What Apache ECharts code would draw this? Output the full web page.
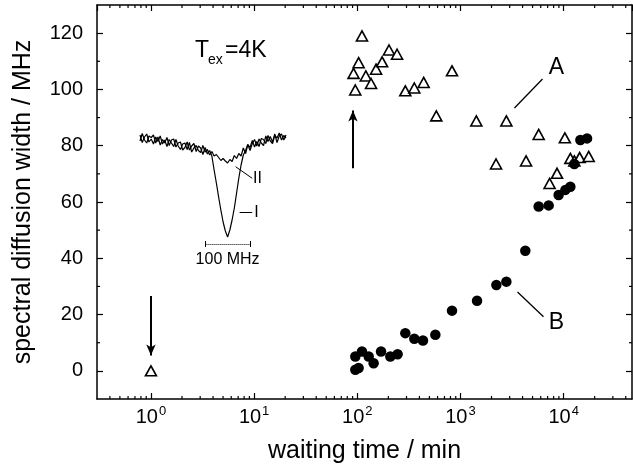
<!DOCTYPE html>
<html><head><meta charset="utf-8">
<script src="https://cdn.jsdelivr.net/npm/echarts@6/dist/echarts.min.js"></script>
<style>html,body{margin:0;padding:0;background:#fff}#c{width:633px;height:466px}</style>
</head><body><div id="c"></div>
<script>
// ---- data ----
// series A: open triangles (waiting time in min, spectral diffusion width in MHz)
const aTime  = [1, 92, 95.6, 103, 111, 121, 136, 152, 174, 203, 243, 292, 357, 440, 583, 828, 1425, 2213, 2786, 4323, 5730, 7310, 8630, 10280, 11620, 12700, 14300, 17500];
const aWidth = [0, 105.7, 99.8, 109.5, 119.0, 104.8, 102.1, 107.2, 109.8, 114.0, 112.5, 99.5, 100.5, 102.5, 90.6, 106.6, 88.8, 73.5, 88.8, 74.6, 84.0, 66.6, 70.2, 82.8, 75.5, 74.6, 75.8, 76.2];
// series B: filled circles
const bTime  = [95.7, 103, 95.7, 111, 129, 144, 170, 209, 246, 292, 357, 433, 571, 828, 1448, 2228, 2786, 4253, 5730, 7160, 8940, 10400, 11620, 12700, 14530, 16870];
const bWidth = [0.4, 1.0, 5.1, 6.9, 5.1, 2.7, 6.9, 5.1, 5.9, 13.4, 11.4, 10.8, 12.8, 21.4, 24.9, 30.5, 31.7, 42.7, 58.4, 58.8, 62.5, 64.3, 65.4, 73.5, 82.0, 82.6];
// axis ticks
const yTickLabels = [0, 20, 40, 60, 80, 100, 120];
const yMinorTicks = [10, 30, 50, 70, 90, 110];
const xMinorTicks = [0.4,0.5,0.6,0.7,0.8,0.9, 2,3,4,5,6,7,8,9, 20,30,40,50,60,70,80,90, 200,300,400,500,600,700,800,900, 2000,3000,4000,5000,6000,7000,8000,9000, 20000,30000,40000];
// inset: hole spectra (frequency offset in MHz, transmission in arb. units)
const insetFreq = [-195,-190,-185,-180,-175,-170,-165,-160,-155,-150,-145,-140,-135,-130,-125,-120,-115,-110,-105,-100,-95,-90,-85,-80,-75,-70,-65,-60,-55,-50,-45,-40,-35,-30,-25,-20,-15,-10,-5,0,5,10,15,20,25,30,35,40,45,50,55,60,65,70,75,80,85,90,95,100,105,110,115,120,125,130];
const traceII = [105,97.5,103,106,98,101,96,103,98.5,104, 96,100,93.5,100.5,97,93.5,100.5,94,90.5,96, 97,90.5,97.5,88,92,94.5,89.5,87.5,94.5,88, 90.5,85,88.5,84,85.5,82.5,79.5,81.5,79,77, 80.5,78.5,84.5,81.5,86.5,84,92,86.5,95.5,92.5, 99.5,93,98.5,93.5,101.5,100.5,96.5,104.5,99,96.5, 104.5,102,107,100,104.5,102];
const traceI  = [99,106.5,100,97,104,102.5,105,97,103,95, 100.5,97,102.5,94.5,100,101,93,97,98,90, 92.5,98,90,94,96.5,88.5,94,92,85.5,92.5, 86,89.5,84,70,57,43,30,18,9,3, 10,20,32,47,62,75,85,89.5,95.5,89.5, 96.5,100.5,94,101,97,94.5,104,98.5,103.5,98, 106,97.5,104,106,100,105];

const X_MIN = 0.3, X_MAX = 46000, Y_MIN = -10, Y_MAX = 130;
const FONT = "'Liberation Sans', Arial, Helvetica, sans-serif";
const K = '#000';

const zip = (a, b) => a.map((v, i) => [v, b[i]]);

const chart = echarts.init(document.getElementById('c'), null, {renderer: 'canvas'});

function powLabel(v) {
  const l = Math.log10(v), e = Math.round(l);
  if (Math.abs(l - e) > 1e-6) return '';
  return '{b|10}{s|' + e + '}';
}

const axisLine = {show: true, onZero: false, lineStyle: {color: K, width: 1.5}};

const option = {
  animation: false,
  backgroundColor: '#fff',
  textStyle: {fontFamily: FONT},
  grid: [
    {left: 97, right: 1, top: 5, bottom: 67, containLabel: false, outerBoundsMode: 'none'},
    {left: 140, width: 146, top: 125, height: 145, containLabel: false, outerBoundsMode: 'none'}
  ],
  xAxis: [
    {type: 'log', gridIndex: 0, position: 'bottom', min: X_MIN, max: X_MAX,
     axisLine, splitLine: {show: false},
     axisTick: {inside: true, length: 6, lineStyle: {color: K, width: 1.2}},
     axisLabel: {formatter: powLabel, showMinLabel: false, showMaxLabel: false, margin: 6, color: K,
       rich: {b: {fontSize: 20, fontFamily: FONT, color: K, lineHeight: 24},
              s: {fontSize: 13, fontFamily: FONT, color: K, verticalAlign: 'top', lineHeight: 14, padding: [0, 0, 0, 1]}}},
     name: 'waiting time / min', nameLocation: 'middle', nameGap: 40,
     nameTextStyle: {fontSize: 25, color: K, fontFamily: FONT}},
    {type: 'log', gridIndex: 0, position: 'top', min: X_MIN, max: X_MAX,
     axisLine, splitLine: {show: false},
     axisTick: {inside: true, length: 6, lineStyle: {color: K, width: 1.2}},
     axisLabel: {show: false}},
    {type: 'value', gridIndex: 1, min: -195, max: 130, show: false}
  ],
  yAxis: [
    {type: 'value', gridIndex: 0, position: 'left', min: Y_MIN, max: Y_MAX, interval: 10,
     axisLine, splitLine: {show: false},
     axisTick: {inside: true, length: 6, customValues: yTickLabels, lineStyle: {color: K, width: 1.2}},
     axisLabel: {customValues: yTickLabels, fontSize: 20, color: K, margin: 14, fontFamily: FONT},
     name: 'spectral diffusion width / MHz', nameLocation: 'middle', nameGap: 61,
     nameTextStyle: {fontSize: 25, color: K, fontFamily: FONT}},
    {type: 'value', gridIndex: 0, position: 'right', min: Y_MIN, max: Y_MAX, interval: 10,
     axisLine, splitLine: {show: false},
     axisTick: {inside: true, length: 6, customValues: yTickLabels, lineStyle: {color: K, width: 1.2}},
     axisLabel: {show: false}},
    {type: 'value', gridIndex: 1, min: -30, max: 115, show: false}
  ],
  graphic: [
    {type: 'text', left: 195, top: 39, style: {text: 'T', fontSize: 23, fontFamily: FONT, fill: K}},
    {type: 'text', left: 208, top: 53, style: {text: 'ex', fontSize: 14, fontFamily: FONT, fill: K}},
    {type: 'text', left: 225, top: 39, style: {text: '=4K', fontSize: 23, fontFamily: FONT, fill: K}}
  ],
  series: [
    // minor ticks of the x axes (bottom & top)
    {type: 'custom', xAxisIndex: 0, yAxisIndex: 0, silent: true, clip: false, z: 5,
     data: xMinorTicks.map(v => [v, 0]),
     renderItem: (p, api) => {
       const b = api.coord([api.value(0), Y_MIN]), t = api.coord([api.value(0), Y_MAX]);
       return {type: 'group', children: [
         {type: 'line', shape: {x1: b[0], y1: b[1], x2: b[0], y2: b[1] - 3}, style: {stroke: K, lineWidth: 1.2}},
         {type: 'line', shape: {x1: t[0], y1: t[1], x2: t[0], y2: t[1] + 3}, style: {stroke: K, lineWidth: 1.2}}
       ]};
     }},
    // minor ticks of the y axes (left & right)
    {type: 'custom', xAxisIndex: 0, yAxisIndex: 0, silent: true, clip: false, z: 5,
     data: yMinorTicks.map(v => [X_MIN, v]),
     renderItem: (p, api) => {
       const l = api.coord([X_MIN, api.value(1)]), r = api.coord([X_MAX, api.value(1)]);
       return {type: 'group', children: [
         {type: 'line', shape: {x1: l[0], y1: l[1], x2: l[0] + 3, y2: l[1]}, style: {stroke: K, lineWidth: 1.2}},
         {type: 'line', shape: {x1: r[0], y1: r[1], x2: r[0] - 3, y2: r[1]}, style: {stroke: K, lineWidth: 1.2}}
       ]};
     }},
    {name: 'A', type: 'scatter', xAxisIndex: 0, yAxisIndex: 0, data: zip(aTime, aWidth),
     symbol: 'triangle', symbolSize: [11, 10], z: 3,
     itemStyle: {color: '#fff', borderColor: K, borderWidth: 1.6, opacity: 1},
     markPoint: {silent: true, symbol: 'circle', symbolSize: 1, itemStyle: {color: 'rgba(0,0,0,0)'},
       label: {show: true, position: 'inside', formatter: '{b}', fontSize: 23, color: K, fontFamily: FONT},
       data: [{name: 'A', coord: [8530, 107.9]}, {name: 'B', coord: [8530, 17.0]}]}},
    {name: 'B', type: 'scatter', xAxisIndex: 0, yAxisIndex: 0, data: zip(bTime, bWidth),
     symbol: 'circle', symbolSize: 10.5, z: 4,
     itemStyle: {color: K, opacity: 1},
     markLine: {silent: true, animation: false, label: {show: false},
       lineStyle: {color: K, type: 'solid', width: 1.3},
       data: [
         [{coord: [1, 26.6], symbol: 'none', lineStyle: {width: 2}}, {coord: [1, 5.5], symbol: 'arrow', symbolSize: [7, 11]}],
         [{coord: [90.8, 72], symbol: 'none', lineStyle: {width: 2}}, {coord: [90.8, 92.5], symbol: 'arrow', symbolSize: [7, 11]}],
         [{coord: [3340, 93.4], symbol: 'none'}, {coord: [6240, 103.7], symbol: 'none'}],
         [{coord: [3573, 28.0], symbol: 'none'}, {coord: [6383, 19.2], symbol: 'none'}]
       ]}},
    // inset spectra
    {name: 'I', type: 'line', xAxisIndex: 2, yAxisIndex: 2, data: zip(insetFreq, traceI),
     showSymbol: false, symbol: 'none', clip: false, lineStyle: {color: K, width: 1.2}},
    {name: 'II', type: 'line', xAxisIndex: 2, yAxisIndex: 2, data: zip(insetFreq, traceII),
     showSymbol: false, symbol: 'none', clip: false, lineStyle: {color: K, width: 1.2},
     markLine: {silent: true, animation: false, label: {show: false}, symbol: 'none',
       lineStyle: {color: K, type: 'solid', width: 1},
       data: [
         [{coord: [-49, -4], lineStyle: {type: 'dotted'}}, {coord: [51, -4]}],
         [{coord: [-49, -7]}, {coord: [-49, -1]}],
         [{coord: [51, -7]}, {coord: [51, -1]}],
         [{coord: [17.8, 73.3]}, {coord: [54.8, 61.7]}],
         [{coord: [26.7, 27.7]}, {coord: [54.8, 27.7]}]
       ]},
     markPoint: {silent: true, symbol: 'circle', symbolSize: 1, itemStyle: {color: 'rgba(0,0,0,0)'},
       label: {show: true, position: 'inside', formatter: '{b}', fontSize: 16, color: K, fontFamily: FONT},
       data: [{name: 'II', coord: [66.7, 61]}, {name: 'I', coord: [64.4, 27.5]}, {name: '100 MHz', coord: [0, -20]}]}}
  ]
};
chart.setOption(option);
</script></body></html>
